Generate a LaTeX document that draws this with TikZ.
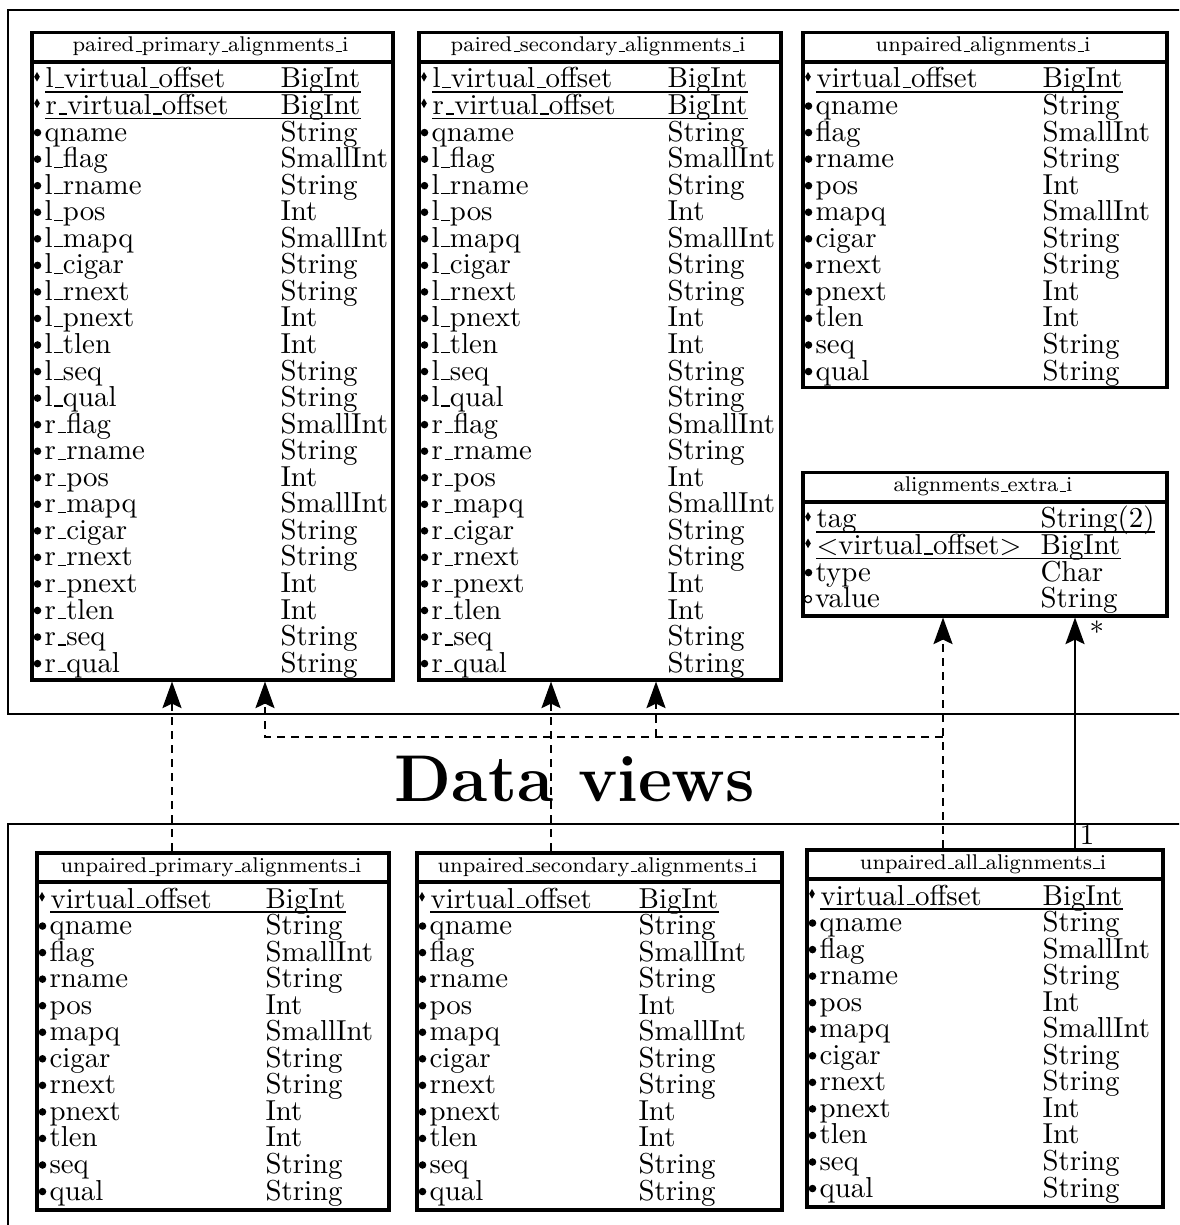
\documentclass[tikz,border=0pt]{standalone}
\usetikzlibrary{arrows.meta,calc}
\newcommand\us{\leavevmode\kern.06em\vbox{\hrule width.3em}}
\tikzset{
  frame/.style={draw, line width=0.75pt},
  tbox/.style={draw, line width=1.25pt, inner sep=0pt, anchor=north west},
  hline/.style={line width=1.1pt},
  cell/.style={inner sep=0pt, anchor=base west, font=\fontsize{10.3}{12}\selectfont},
  head/.style={inner sep=0pt, anchor=base, font=\fontsize{7.6}{9}\selectfont},
  keyline/.style={line width=0.5pt},
  tip/.style={-{Stealth[length=9.5pt,width=6.8pt,inset=1.6pt]}},
  dep/.style={draw, line width=0.7pt, dash pattern=on 2.8pt off 2.2pt, tip},
  assoc/.style={draw, line width=0.7pt, tip},
  mult/.style={inner sep=0pt, font=\fontsize{10.3}{12}\selectfont},
  big/.style={inner sep=0pt, anchor=base, font=\bfseries\fontsize{23.6}{28}\selectfont}
}
% #1 name, #2 left, #3 top, #4 right, #5 bottom, #6 type x, #7 header, #8 rows
\newcommand\dbtable[8]{%
  \node[tbox, minimum width={(#4-#2)*0.357pt}, minimum height={(#5-#3)*0.357pt}] (#1) at (#2,#3) {};
  \node[head] (#1-h) at ({(#2+#4)/2}, #3+21) {#7};
  \draw[hline] (#2,#3+31) -- (#4,#3+31);
  \foreach \k/\n/\t [count=\i] in {#8} {
    \pgfmathsetmacro\yb{#3+57+(\i-1)*26.55}
    \if\k k
      \node[cell] (#1-n\i) at (#2+15,\yb) {\n};
      \fill (#2+7,\yb-16) -- (#2+9.8,\yb-11.2) -- (#2+7,\yb-6.4) -- (#2+4.2,\yb-11.2) -- cycle;
    \fi
    \if\k b
      \node[cell] (#1-n\i) at (#2+14,\yb) {\n};
      \fill (#2+7.5,\yb-8.5) circle[radius=1.35pt];
    \fi
    \if\k o
      \node[cell] (#1-n\i) at (#2+13.5,\yb) {\n};
      \draw[line width=0.45pt] (#2+7,\yb-8.5) circle[radius=1.25pt];
    \fi
    \node[cell] (#1-t\i) at (#6,\yb) {\t};
    \if\k k
      \draw[keyline] ([yshift=-1.4pt]#1-n\i.base west) -- ([yshift=-1.4pt]#1-t\i.base east);
    \fi
  }
}
\begin{document}
\begin{tikzpicture}[x=0.357pt, y=-0.357pt]
\useasboundingbox (0,0) rectangle (1179,1225);
\clip (0,0) rectangle (1179,1225);
% frames
\draw[frame] (1200,10) -- (8,10) -- (8,714) -- (1200,714);
\draw[frame] (1200,824) -- (8,824) -- (8,1250);

\dbtable{t1}{30}{31}{391}{678}{280}{paired\us primary\us alignments\us i}{
 k/l\us virtual\us offset/BigInt, k/r\us virtual\us offset/BigInt, b/qname/String,
 b/l\us flag/SmallInt, b/l\us rname/String, b/l\us pos/Int, b/l\us mapq/SmallInt,
 b/l\us cigar/String, b/l\us rnext/String, b/l\us pnext/Int, b/l\us tlen/Int,
 b/l\us seq/String, b/l\us qual/String, b/r\us flag/SmallInt, b/r\us rname/String,
 b/r\us pos/Int, b/r\us mapq/SmallInt, b/r\us cigar/String, b/r\us rnext/String,
 b/r\us pnext/Int, b/r\us tlen/Int, b/r\us seq/String, b/r\us qual/String}

\dbtable{t2}{417}{31}{779}{678}{667}{paired\us secondary\us alignments\us i}{
 k/l\us virtual\us offset/BigInt, k/r\us virtual\us offset/BigInt, b/qname/String,
 b/l\us flag/SmallInt, b/l\us rname/String, b/l\us pos/Int, b/l\us mapq/SmallInt,
 b/l\us cigar/String, b/l\us rnext/String, b/l\us pnext/Int, b/l\us tlen/Int,
 b/l\us seq/String, b/l\us qual/String, b/r\us flag/SmallInt, b/r\us rname/String,
 b/r\us pos/Int, b/r\us mapq/SmallInt, b/r\us cigar/String, b/r\us rnext/String,
 b/r\us pnext/Int, b/r\us tlen/Int, b/r\us seq/String, b/r\us qual/String}

\dbtable{t3}{801}{31}{1165}{386}{1042}{unpaired\us alignments\us i}{
 k/virtual\us offset/BigInt, b/qname/String, b/flag/SmallInt, b/rname/String,
 b/pos/Int, b/mapq/SmallInt, b/cigar/String, b/rnext/String, b/pnext/Int,
 b/tlen/Int, b/seq/String, b/qual/String}

\dbtable{ex}{801}{471}{1165}{614}{1040}{alignments\us extra\us i}{
 k/tag/String(2), k/$<$virtual\us offset$>$/BigInt, b/type/Char, o/value/String}

\dbtable{b1}{35}{851}{387}{1208}{265}{unpaired\us primary\us alignments\us i}{
 k/virtual\us offset/BigInt, b/qname/String, b/flag/SmallInt, b/rname/String,
 b/pos/Int, b/mapq/SmallInt, b/cigar/String, b/rnext/String, b/pnext/Int,
 b/tlen/Int, b/seq/String, b/qual/String}

\dbtable{b2}{415}{851}{780}{1208}{638}{unpaired\us secondary\us alignments\us i}{
 k/virtual\us offset/BigInt, b/qname/String, b/flag/SmallInt, b/rname/String,
 b/pos/Int, b/mapq/SmallInt, b/cigar/String, b/rnext/String, b/pnext/Int,
 b/tlen/Int, b/seq/String, b/qual/String}

\dbtable{b3}{805}{848}{1161}{1205}{1042}{unpaired\us all\us alignments\us i}{
 k/virtual\us offset/BigInt, b/qname/String, b/flag/SmallInt, b/rname/String,
 b/pos/Int, b/mapq/SmallInt, b/cigar/String, b/rnext/String, b/pnext/Int,
 b/tlen/Int, b/seq/String, b/qual/String}

\node[big] (dv) at (575,801) {Data views};

% connector x positions
\coordinate (x1) at (172,0);
\coordinate (x2) at (551,0);
\coordinate (x3) at (943,0);
\coordinate (x4) at (1075,0);
\coordinate (xa) at (265,0);
\coordinate (xb) at (656,0);
\coordinate (br) at (943,737);

\draw[dep] (b1.north -| x1) -- (t1.south -| x1);
\draw[dep] (b2.north -| x2) -- (t2.south -| x2);
\draw[dep] (b3.north -| x3) -- (ex.south -| x3);
\draw[dep] (br) -- (br -| xa) -- (t1.south -| xa);
\draw[dep] (br -| xb) -- (t2.south -| xb);
\draw[assoc] (b3.north -| x4) -- (ex.south -| x4);
\node[mult, anchor=south west] (m1) at ([xshift=1.5pt,yshift=1pt]b3.north -| x4) {1};
\node[mult, anchor=north west] (m2) at ([xshift=5pt,yshift=-1pt]ex.south -| x4) {*};
\end{tikzpicture}
\end{document}
